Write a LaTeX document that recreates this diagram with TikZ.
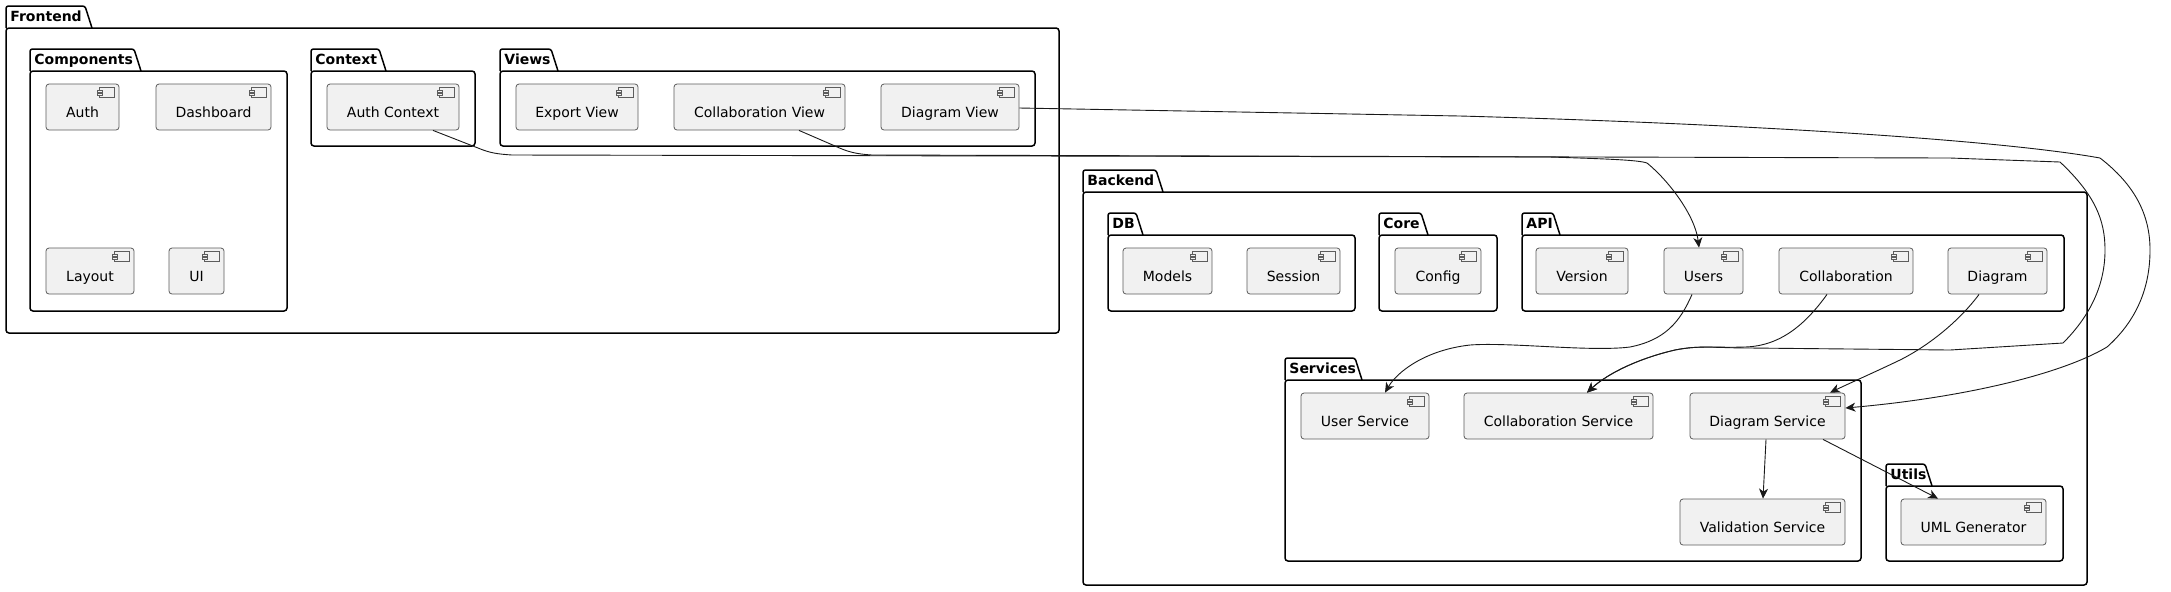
\documentclass[tikz,border=0pt]{standalone}
\usepackage{fontspec}
\setmainfont{DejaVu Sans}
\usetikzlibrary{arrows.meta,calc}
\definecolor{compfill}{HTML}{F1F1F1}
\definecolor{compline}{HTML}{181818}
\newcommand{\pkgdraw}[8]{%
  \draw[pkgline, rounded corners=1.2pt] (#3,#5) -- (#3,#4) -- ({#6-7},#4) -- (#6,#5);
  \draw[pkgline, rounded corners=1.5pt] (#3,#5) rectangle (#7,#8);
  \node[pkglabel] (#1) at ({#3+4},{#5-6.5}) {#2};
}
\begin{document}
\begin{tikzpicture}[x=0.5pt,y=-0.5pt,
  comp/.style={draw=compline!70, line width=0.4pt, fill=compfill, rounded corners=1.5pt,
    minimum height=23pt, text height=11pt, text depth=0.9pt, inner sep=0pt,
    font=\fontsize{7}{8}\selectfont},
  cw/.style={minimum width=#1*0.5pt},
  pkgline/.style={line width=0.75pt, draw=black},
  pkglabel/.style={font=\fontsize{7}{8}\selectfont\bfseries, anchor=base west, inner sep=0pt},
  conn/.style={draw=black!90, line width=0.45pt, -{Stealth[length=5pt,width=4.5pt,inset=1.5pt]}},
  iconst/.style={draw=compline!70, line width=0.4pt, fill=compfill}
]
\useasboundingbox[fill=white] (0,0) rectangle (2171,591);

% packages
\pkgdraw{frontend}{Frontend}{6}{6}{28}{92}{1059}{333}
\pkgdraw{components}{Components}{30}{49}{71}{141}{287}{311}
\pkgdraw{context}{Context}{311}{49}{71}{386}{475}{146}
\pkgdraw{views}{Views}{500}{49}{71}{558}{1035}{146}
\pkgdraw{backend}{Backend}{1083}{170}{192}{1163}{2087}{585}
\pkgdraw{db}{DB}{1108}{213}{235}{1143}{1355}{311}
\pkgdraw{core}{Core}{1379}{213}{235}{1428}{1497}{311}
\pkgdraw{api}{API}{1522}{213}{235}{1560}{2064}{311}
\pkgdraw{services}{Services}{1285}{358}{380}{1362}{1861}{561}
\pkgdraw{utils}{Utils}{1886}{464}{486}{1932}{2063}{561}

% components
\node[comp, cw=73]  (auth)       at (82.5,107)  {Auth\hspace{5pt}};
\node[comp, cw=115] (dash)       at (213.5,107) {Dashboard\hspace{5pt}};
\node[comp, cw=88]  (layout)     at (90,271)    {Layout\hspace{5pt}};
\node[comp, cw=55]  (ui)         at (196.5,271) {UI\hspace{5pt}};
\node[comp, cw=132] (authctx)    at (393,107)   {Auth Context\hspace{5pt}};
\node[comp, cw=122] (exportview) at (577,107)   {Export View\hspace{5pt}};
\node[comp, cw=171] (collabview) at (759.5,107) {Collaboration View\hspace{5pt}};
\node[comp, cw=138] (diagview)   at (950,107)   {Diagram View\hspace{5pt}};
\node[comp, cw=89]  (models)     at (1167.5,271) {Models\hspace{5pt}};
\node[comp, cw=93]  (session)    at (1293.5,271) {Session\hspace{5pt}};
\node[comp, cw=86]  (config)     at (1438,271)   {Config\hspace{5pt}};
\node[comp, cw=92]  (version)    at (1582,271)   {Version\hspace{5pt}};
\node[comp, cw=79]  (apiusers)   at (1703.5,271) {Users\hspace{5pt}};
\node[comp, cw=134] (apicollab)  at (1846,271)   {Collaboration\hspace{5pt}};
\node[comp, cw=99]  (apidiagram) at (1997.5,271) {Diagram\hspace{5pt}};
\node[comp, cw=128] (usersvc)    at (1365,416)   {User Service\hspace{5pt}};
\node[comp, cw=189] (collabsvc)  at (1558.5,416) {Collaboration Service\hspace{5pt}};
\node[comp, cw=155] (diagsvc)    at (1767.5,416) {Diagram Service\hspace{5pt}};
\node[comp, cw=165] (validsvc)   at (1762.5,522) {Validation Service\hspace{5pt}};
\node[comp, cw=145] (umlgen)     at (1973.5,522) {UML Generator\hspace{5pt}};

% component icons
\foreach \n in {auth,dash,layout,ui,authctx,exportview,collabview,diagview,models,session,config,version,apiusers,apicollab,apidiagram,usersvc,collabsvc,diagsvc,validsvc,umlgen}{
  \draw[iconst] ($(\n.north east)+(-20,4)$) rectangle ($(\n.north east)+(-5,14)$);
  \draw[iconst] ($(\n.north east)+(-22.5,6.3)$) rectangle ($(\n.north east)+(-17.5,8.5)$);
  \draw[iconst] ($(\n.north east)+(-22.5,9.8)$) rectangle ($(\n.north east)+(-17.5,12)$);
}

% connectors
\draw[conn] ($(authctx.south)+(40,0)$) -- (478,148) .. controls (490,153) and (497,154) .. (512,155)
  -- (1550,157) .. controls (1610,159) and (1638,160) .. (1647,163)
  .. controls (1668,180) and (1695,215) .. ($(apiusers.north)+(-4.5,0)$);

\draw[conn] ($(collabview.south)+(39.5,0)$) -- (835,146) .. controls (848,152) and (856,154) .. (872,155)
  -- (1950,158) -- (2060,162)
  .. controls (2095,195) and (2105,220) .. (2105,250)
  .. controls (2105,285) and (2090,316) .. (2063,343)
  -- (1950,350) -- (1750,348)
  .. controls (1715,348) and (1700,345) .. (1675,350)
  .. controls (1640,358) and (1608,373) .. ($(collabsvc.north)+(28.5,0)$);

\draw[conn] ($(diagview.east)+(0,1)$) -- (1460,116)
  .. controls (1750,124) and (2000,140) .. (2100,158)
  .. controls (2135,185) and (2150,215) .. (2150,250)
  .. controls (2150,290) and (2135,322) .. (2107,347)
  .. controls (2060,375) and (1960,398) .. ($(diagsvc.east)+(0,-8)$);

\draw[conn] ($(apiusers.south)+(-11.5,0)$) .. controls (1680,322) and (1665,340) .. (1630,347)
  .. controls (1590,352) and (1510,342) .. (1470,345)
  .. controls (1425,350) and (1397,372) .. ($(usersvc.north)+(20,0)$);

\draw[conn] ($(apicollab.south)+(-19,0)$) .. controls (1805,325) and (1780,346) .. (1745,347)
  .. controls (1715,348) and (1700,345) .. (1675,350)
  .. controls (1640,358) and (1608,373) .. ($(collabsvc.north)+(28.5,0)$);

\draw[conn] ($(apidiagram.south)+(-18.5,0)$) .. controls (1960,320) and (1930,345) .. (1900,360)
  .. controls (1875,372) and (1850,383) .. ($(diagsvc.north)+(62.5,0)$);

\draw[conn] ($(diagsvc.south)+(-1.5,0)$) -- ($(validsvc.north)+(0.5,0)$);
\draw[conn] ($(diagsvc.south)+(55.5,0)$) -- ($(umlgen.north)+(-35.5,0)$);
\end{tikzpicture}
\end{document}
